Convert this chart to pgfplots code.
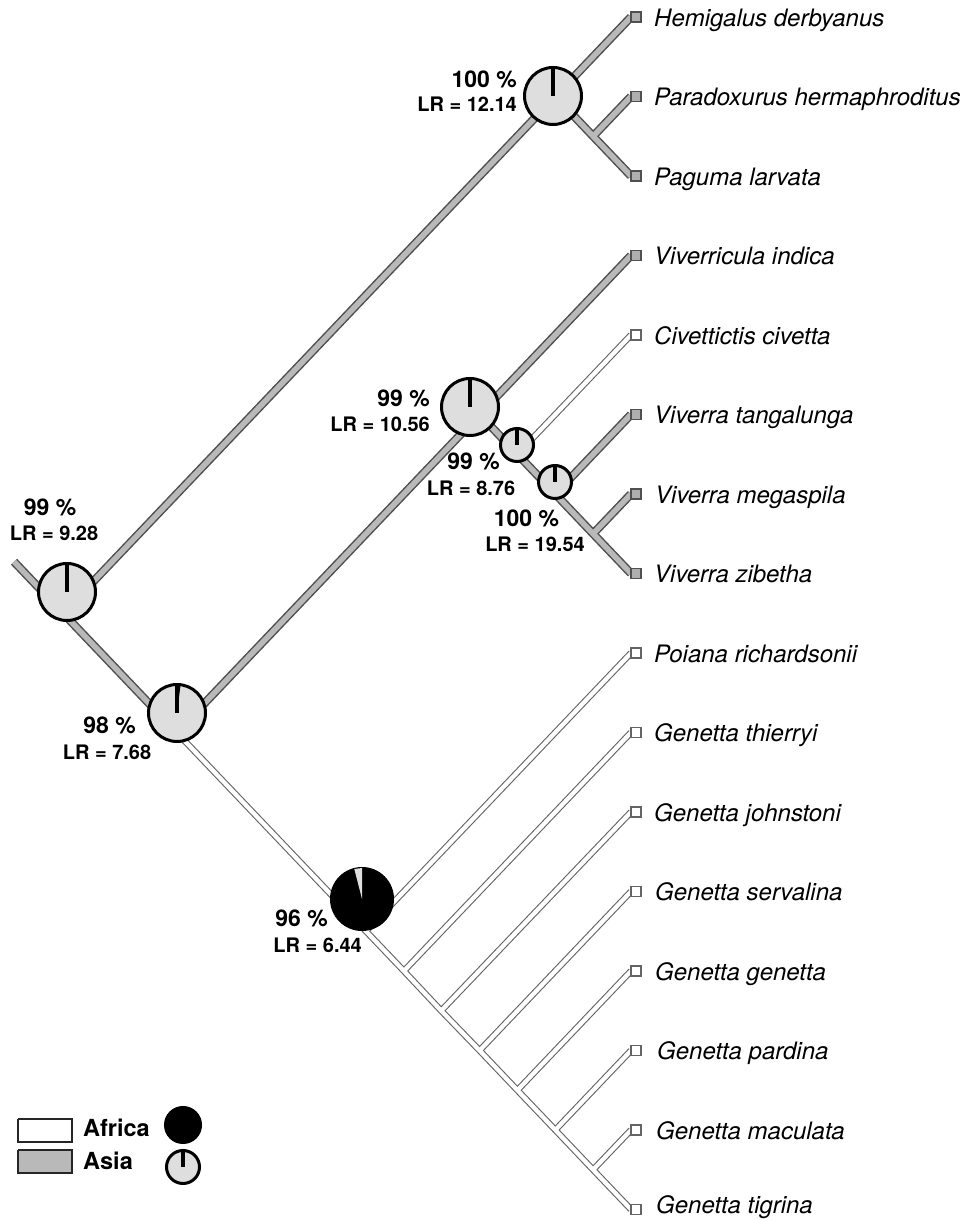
\documentclass[border=0pt]{standalone}
\usepackage{pgfplots}
\pgfplotsset{compat=1.18}
\usepackage{fontspec}
\setmainfont{TeX Gyre Heros}
\definecolor{tubegray}{RGB}{185,185,185}
\definecolor{tubeedge}{RGB}{80,80,80}
\definecolor{whiteedge}{RGB}{100,100,100}
\definecolor{piegray}{RGB}{222,222,222}
\definecolor{tipgray}{RGB}{175,175,175}
\tikzset{
 outA/.style={draw=tubeedge, line width=8.5pt, line join=round},
 inA/.style={draw=tubegray, line width=5.5pt, line join=round},
 outF/.style={draw=whiteedge, line width=6.5pt, line join=round},
 inF/.style={draw=white, line width=4.3pt, line join=round},
 lab/.style={font=\fontsize{24}{28}\selectfont\itshape, anchor=base west, inner sep=0pt},
 pct/.style={font=\fontsize{23}{27}\selectfont\bfseries, inner sep=0pt},
 lr/.style={font=\fontsize{20}{24}\selectfont\bfseries, inner sep=0pt},
 leg/.style={font=\fontsize{23.5}{27}\selectfont\bfseries, inner sep=0pt, anchor=base west},
}
\newcommand{\grayBranches}[1]{%
\addplot[#1] coordinates {(14,561.7) (63.1,613.25) (176.7,732.5)};
\addplot[#1] coordinates {(63.1,613.25) (555.3,96.5) (631,17)};
\addplot[#1] coordinates {(555.3,96.5) (593.1,136.25) (631,176)};
\addplot[#1] coordinates {(593.1,136.25) (631,96.5)};
\addplot[#1] coordinates {(176.7,732.5) (479.6,414.5) (631,255.5)};
\addplot[#1] coordinates {(479.6,414.5) (517.4,454.25) (555.3,494) (593.1,533.75) (631,573.5)};
\addplot[#1] coordinates {(555.3,494) (631,414.5)};
\addplot[#1] coordinates {(593.1,533.75) (631,494)};
}
\newcommand{\whiteBranches}[1]{%
\addplot[#1] coordinates {(517.4,454.25) (631,335)};
\addplot[#1] coordinates {(176.7,732.5) (366,931.25) (403.9,971) (441.2,1010.75) (479.6,1050.5) (517.4,1090.25) (555.3,1130) (593.1,1169.75) (631,1209.5)};
\addplot[#1] coordinates {(366,931.25) (631,653)};
\addplot[#1] coordinates {(403.9,971) (631,732.5)};
\addplot[#1] coordinates {(441.2,1010.75) (631,812)};
\addplot[#1] coordinates {(479.6,1050.5) (631,891.5)};
\addplot[#1] coordinates {(517.4,1090.25) (631,971)};
\addplot[#1] coordinates {(555.3,1130) (631,1050.5)};
\addplot[#1] coordinates {(593.1,1169.75) (631,1130)};
}
\begin{document}
\begin{tikzpicture}
\begin{axis}[
 set layers,
 width=967pt, height=1220pt, scale only axis,
 xmin=0, xmax=967, ymin=0, ymax=1220, y dir=reverse,
 hide axis, clip=false,
]
% branches
\whiteBranches{outF}
\grayBranches{outA}
\whiteBranches{inF}
\grayBranches{inA}
% tip boxes
\addplot[only marks, mark=square*, mark size=5, mark options={fill=tipgray, draw=tubeedge, line width=1.3pt}]
 coordinates {(636,17) (636,96.5) (636,176) (636,255.5) (636,414.5) (636,494) (636,573.5)};
\addplot[only marks, mark=square*, mark size=5, mark options={fill=white, draw=whiteedge, line width=1.3pt}]
 coordinates {(636,335) (636,653) (636,732.5) (636,812) (636,891.5) (636,971) (636,1050.5) (636,1130) (636,1209.5)};
% pies (Asia)
\addplot[only marks, mark=*, mark size=28.5, mark options={fill=piegray, draw=black, line width=3pt}]
 coordinates {(67,592) (553,96) (177,713) (470,407)};
\addplot[only marks, mark=*, mark size=16.5, mark options={fill=piegray, draw=black, line width=3pt}]
 coordinates {(517,445) (555,482) (183,1167)};
% pie (Africa)
\addplot[only marks, mark=*, mark size=31.5, mark options={fill=black, draw=black, line width=1pt}]
 coordinates {(362,899)};
\addplot[only marks, mark=*, mark size=18.5, mark options={fill=black, draw=black, line width=1pt}]
 coordinates {(183,1125)};
% Africa wedges in Asia pies (on top of the pie marks)
\addplot[on layer=axis foreground, fill=black, draw=none] coordinates {(67,592) (67,563.5) (68.8,563.56)};
\addplot[on layer=axis foreground, fill=black, draw=none] coordinates {(177,713) (177,684.5) (180.6,684.7)};
\addplot[on layer=axis foreground, fill=black, draw=none] coordinates {(470,407) (470,378.5) (471.8,378.56)};
\addplot[on layer=axis foreground, fill=black, draw=none] coordinates {(517,445) (517,428.5) (518.0,428.5)};
\addplot[on layer=axis foreground, draw=black, line width=3.5pt] coordinates {(67,592) (67,563.5)};
\addplot[on layer=axis foreground, draw=black, line width=3.5pt] coordinates {(553,96) (553,67.5)};
\addplot[on layer=axis foreground, draw=black, line width=3.5pt] coordinates {(177,713) (177,684.5)};
\addplot[on layer=axis foreground, draw=black, line width=3.5pt] coordinates {(470,407) (470,378.5)};
\addplot[on layer=axis foreground, draw=black, line width=3.5pt] coordinates {(517,445) (517,428.5)};
\addplot[on layer=axis foreground, draw=black, line width=3.5pt] coordinates {(555,482) (555,465.5)};
\addplot[on layer=axis foreground, draw=black, line width=3.5pt] coordinates {(183,1167) (183,1150.5)};
% Asia sliver in Africa pie
\addplot[on layer=axis foreground, fill=piegray, draw=none] coordinates {(362,899) (362,868) (354.3,869)};
% legend boxes
\addplot[fill=white, draw=black!85, line width=2.5pt] coordinates {(18.2,1119.2) (71.8,1119.2) (71.8,1141.8) (18.2,1141.8) (18.2,1119.2)};
\addplot[fill=tubegray, draw=black!85, line width=2.5pt] coordinates {(18.2,1150.2) (71.8,1150.2) (71.8,1172.8) (18.2,1172.8) (18.2,1150.2)};
% node labels
\node[pct, anchor=base east] at (axis cs:517,88) {100 \%};
\node[lr, anchor=base east] at (axis cs:517,112) {LR = 12.14};
\node[pct, anchor=base] at (axis cs:50,516) {99 \%};
\node[lr, anchor=base] at (axis cs:54,541) {LR = 9.28};
\node[pct, anchor=base] at (axis cs:109.5,734) {98 \%};
\node[lr, anchor=base] at (axis cs:107,760) {LR = 7.68};
\node[pct, anchor=base east] at (axis cs:430,407) {99 \%};
\node[lr, anchor=base east] at (axis cs:430,432) {LR = 10.56};
\node[pct, anchor=base] at (axis cs:473.5,470) {99 \%};
\node[lr, anchor=base] at (axis cs:471,496) {LR = 8.76};
\node[pct, anchor=base] at (axis cs:526.5,527) {100 \%};
\node[lr, anchor=base] at (axis cs:535,552) {LR = 19.54};
\node[pct, anchor=base east] at (axis cs:328,927) {96 \%};
\node[lr, anchor=base east] at (axis cs:362,953) {LR = 6.44};
% legend text
\node[leg] at (axis cs:83,1137) {Africa};
\node[leg] at (axis cs:83,1170) {Asia};
% species labels
\node[lab] at (axis cs:654,26.5) {Hemigalus derbyanus};
\node[lab] at (axis cs:654,106) {Paradoxurus hermaphroditus};
\node[lab] at (axis cs:654,185.5) {Paguma larvata};
\node[lab] at (axis cs:654,265) {Viverricula indica};
\node[lab] at (axis cs:654,344.5) {Civettictis civetta};
\node[lab] at (axis cs:654,424) {Viverra tangalunga};
\node[lab] at (axis cs:655,503.5) {Viverra megaspila};
\node[lab] at (axis cs:654,583) {Viverra zibetha};
\node[lab] at (axis cs:654,662.5) {Poiana richardsonii};
\node[lab] at (axis cs:654,742) {Genetta thierryi};
\node[lab] at (axis cs:654,821.5) {Genetta johnstoni};
\node[lab] at (axis cs:655,901) {Genetta servalina};
\node[lab] at (axis cs:655,980.5) {Genetta genetta};
\node[lab] at (axis cs:657,1060) {Genetta pardina};
\node[lab] at (axis cs:656,1139.5) {Genetta maculata};
\node[lab] at (axis cs:656,1213.5) {Genetta tigrina};
\end{axis}
\pgfresetboundingbox
\useasboundingbox (0,0) rectangle (967pt,1220pt);
\end{tikzpicture}
\end{document}
